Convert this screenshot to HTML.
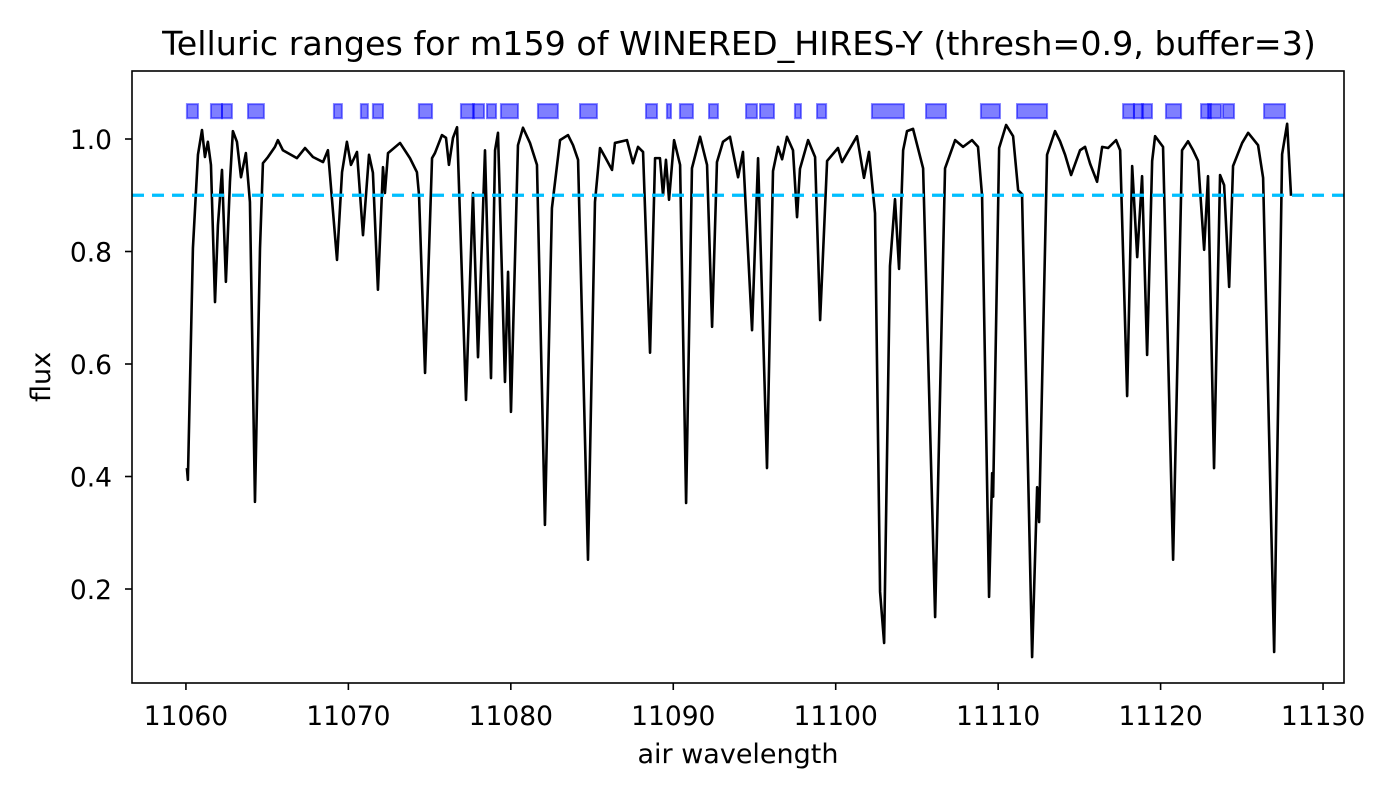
<!DOCTYPE html>
<html><head><meta charset="utf-8"><style>
html,body{margin:0;padding:0;background:#fff;}
svg{display:block;font-family:"DejaVu Sans","Liberation Sans",sans-serif;}
</style></head><body>
<svg id="chart" width="1400" height="800" viewBox="0 0 1400 800">
<rect x="0" y="0" width="1400" height="800" fill="#fff"/>
<text x="739" y="55" font-size="33.3" text-anchor="middle">Telluric ranges for m159 of WINERED_HIRES-Y (thresh=0.9, buffer=3)</text>
<g id="spans"></g>
<g id="lines"></g>
<g id="xaxis"></g>
<g id="yaxis"></g>
<rect x="132" y="71" width="1212" height="612" fill="none" stroke="#000" stroke-width="1.6"/>
<text x="738" y="763" font-size="27" text-anchor="middle">air wavelength</text>
<text x="0" y="0" font-size="27" text-anchor="middle" transform="translate(50,377) rotate(-90)">flux</text>
</svg>
<script>
const wave = [11060.06,11060.12,11060.43,11060.74,11060.99,11061.17,11061.35,11061.54,11061.79,11061.97,11062.22,11062.46,11062.71,11062.89,11063.14,11063.39,11063.69,11063.94,11064.25,11064.56,11064.74,11065.05,11065.48,11065.66,11065.97,11066.83,11067.33,11067.82,11068.44,11068.74,11069.30,11069.61,11069.91,11070.16,11070.53,11070.90,11071.27,11071.51,11071.82,11072.13,11072.25,11072.44,11073.18,11073.79,11074.22,11074.35,11074.72,11075.15,11075.33,11075.76,11076.01,11076.19,11076.44,11076.69,11077.24,11077.67,11077.98,11078.41,11078.78,11079.03,11079.21,11079.64,11079.83,11080.01,11080.44,11080.75,11081.18,11081.61,11082.10,11082.53,11083.03,11083.52,11083.83,11084.14,11084.75,11085.18,11085.49,11085.80,11086.23,11086.41,11087.15,11087.52,11087.83,11088.14,11088.57,11088.88,11089.18,11089.37,11089.55,11089.74,11090.05,11090.42,11090.79,11091.15,11091.65,11092.08,11092.39,11092.69,11093.06,11093.49,11093.99,11094.29,11094.85,11095.22,11095.77,11096.14,11096.45,11096.70,11097.00,11097.37,11097.62,11097.80,11098.30,11098.73,11099.04,11099.47,11100.14,11100.39,11101.31,11101.74,11102.05,11102.42,11102.73,11102.98,11103.34,11103.65,11103.90,11104.15,11104.39,11104.76,11105.38,11106.12,11106.73,11107.35,11107.84,11108.39,11108.76,11109.01,11109.44,11109.63,11109.69,11110.06,11110.49,11110.92,11111.23,11111.47,11112.09,11112.40,11112.52,11113.01,11113.50,11113.81,11114.12,11114.49,11115.04,11115.35,11115.66,11116.09,11116.40,11116.77,11117.26,11117.51,11117.94,11118.25,11118.56,11118.86,11119.17,11119.48,11119.66,11120.15,11120.77,11121.32,11121.69,11122.00,11122.31,11122.68,11122.92,11123.29,11123.66,11123.91,11124.22,11124.46,11125.02,11125.39,11126.00,11126.31,11126.99,11127.48,11127.79,11128.03];
const flux = [0.415,0.394,0.806,0.972,1.016,0.968,0.995,0.954,0.710,0.847,0.945,0.746,0.924,1.014,0.995,0.932,0.975,0.888,0.355,0.806,0.957,0.968,0.986,0.998,0.980,0.966,0.984,0.968,0.959,0.980,0.785,0.941,0.995,0.954,0.977,0.829,0.972,0.940,0.732,0.950,0.904,0.975,0.993,0.966,0.941,0.900,0.584,0.966,0.975,1.007,1.002,0.954,1.002,1.021,0.536,0.904,0.612,0.980,0.575,0.980,1.011,0.568,0.764,0.515,0.989,1.020,0.993,0.954,0.314,0.877,0.998,1.007,0.989,0.963,0.252,0.888,0.984,0.968,0.945,0.993,0.998,0.957,0.986,0.977,0.620,0.966,0.966,0.900,0.963,0.892,0.998,0.954,0.353,0.948,1.004,0.954,0.666,0.959,0.995,1.004,0.932,0.977,0.660,0.966,0.415,0.943,0.986,0.964,1.004,0.980,0.861,0.947,0.998,0.968,0.678,0.961,0.984,0.959,1.005,0.931,0.977,0.868,0.195,0.104,0.774,0.893,0.769,0.980,1.014,1.018,0.948,0.150,0.948,0.998,0.986,0.998,0.986,0.899,0.186,0.406,0.364,0.984,1.025,1.005,0.909,0.902,0.079,0.381,0.319,0.972,1.014,0.996,0.972,0.936,0.980,0.986,0.956,0.924,0.986,0.984,0.998,0.980,0.543,0.952,0.790,0.934,0.616,0.961,1.005,0.986,0.252,0.980,0.996,0.980,0.961,0.803,0.934,0.415,0.936,0.918,0.737,0.952,0.993,1.011,0.989,0.931,0.088,0.973,1.027,0.899];
const spanStart = [11060.06,11061.54,11062.22,11063.82,11069.11,11070.77,11071.51,11074.34,11076.93,11077.67,11078.53,11079.39,11081.67,11084.26,11088.32,11089.61,11090.41,11092.20,11094.48,11095.34,11097.49,11098.85,11102.23,11105.56,11108.94,11111.16,11117.69,11118.36,11118.85,11120.33,11122.49,11122.92,11123.84,11126.37];
const spanEnd = [11060.74,11062.22,11062.83,11064.80,11069.60,11071.20,11072.13,11075.15,11077.73,11078.35,11079.09,11080.44,11082.90,11085.30,11089.00,11089.86,11091.21,11092.75,11095.15,11096.20,11097.86,11099.41,11104.20,11106.79,11110.11,11113.01,11118.36,11118.92,11119.47,11121.26,11123.10,11123.72,11124.52,11127.66];
const threshold = 0.9;
const spanLow = 1.037, spanHigh = 1.062;
const xTicks = [11060,11070,11080,11090,11100,11110,11120,11130];
const yTicks = [0.2,0.4,0.6,0.8,1.0];

const NS = "http://www.w3.org/2000/svg";
const X0 = 11056.68, X1 = 11131.29, Y0 = 0.0329, Y1 = 1.1209;
const PL = 132, PR = 1344, PT = 71, PB = 683;
function sx(v){ return PL + (v - X0) / (X1 - X0) * (PR - PL); }
function sy(v){ return PB - (v - Y0) / (Y1 - Y0) * (PB - PT); }
function mk(tag, attrs, parent){ const e = document.createElementNS(NS, tag); for (const k in attrs) e.setAttribute(k, attrs[k]); parent.appendChild(e); return e; }

const spans = document.getElementById('spans');
for (let i = 0; i < spanStart.length; i++) {
  const r = mk('rect', {x: sx(spanStart[i]), y: sy(spanHigh), width: sx(spanEnd[i]) - sx(spanStart[i]), height: sy(spanLow) - sy(spanHigh), fill: 'rgba(0,0,255,0.5)', stroke: 'rgba(0,0,255,0.5)', 'stroke-width': 2}, spans);
  
  
}

const lines = document.getElementById('lines');
let d = '';
for (let i = 0; i < wave.length; i++) d += (i ? 'L' : 'M') + sx(wave[i]).toFixed(2) + ' ' + sy(flux[i]).toFixed(2);
const sp = mk('path', {d: d, fill: 'none', stroke: '#000', 'stroke-width': 2.6, 'stroke-linejoin': 'round'}, lines);


const th = mk('line', {x1: PL, x2: PR, y1: sy(threshold), y2: sy(threshold), stroke: '#00bfff', 'stroke-width': 3.2, 'stroke-dasharray': '12 8'}, lines);



const xa = document.getElementById('xaxis');
xTicks.forEach(t => {
  const x = sx(t);
  const tk = mk('line', {x1: x, x2: x, y1: PB, y2: PB + 7, stroke: '#000', 'stroke-width': 1.6}, xa);
  
  
  const lb = mk('text', {x: x, y: 725, 'font-size': 26.5, 'text-anchor': 'middle'}, xa);
  lb.textContent = String(t);
  
  
});
const ya = document.getElementById('yaxis');
yTicks.forEach(t => {
  const y = sy(t);
  const tk = mk('line', {x1: PL - 7, x2: PL, y1: y, y2: y, stroke: '#000', 'stroke-width': 1.6}, ya);
  
  
  const lb = mk('text', {x: 112, y: y + 10, 'font-size': 26.5, 'text-anchor': 'end'}, ya);
  lb.textContent = t.toFixed(1);
  
  
});
</script>
</body></html>
